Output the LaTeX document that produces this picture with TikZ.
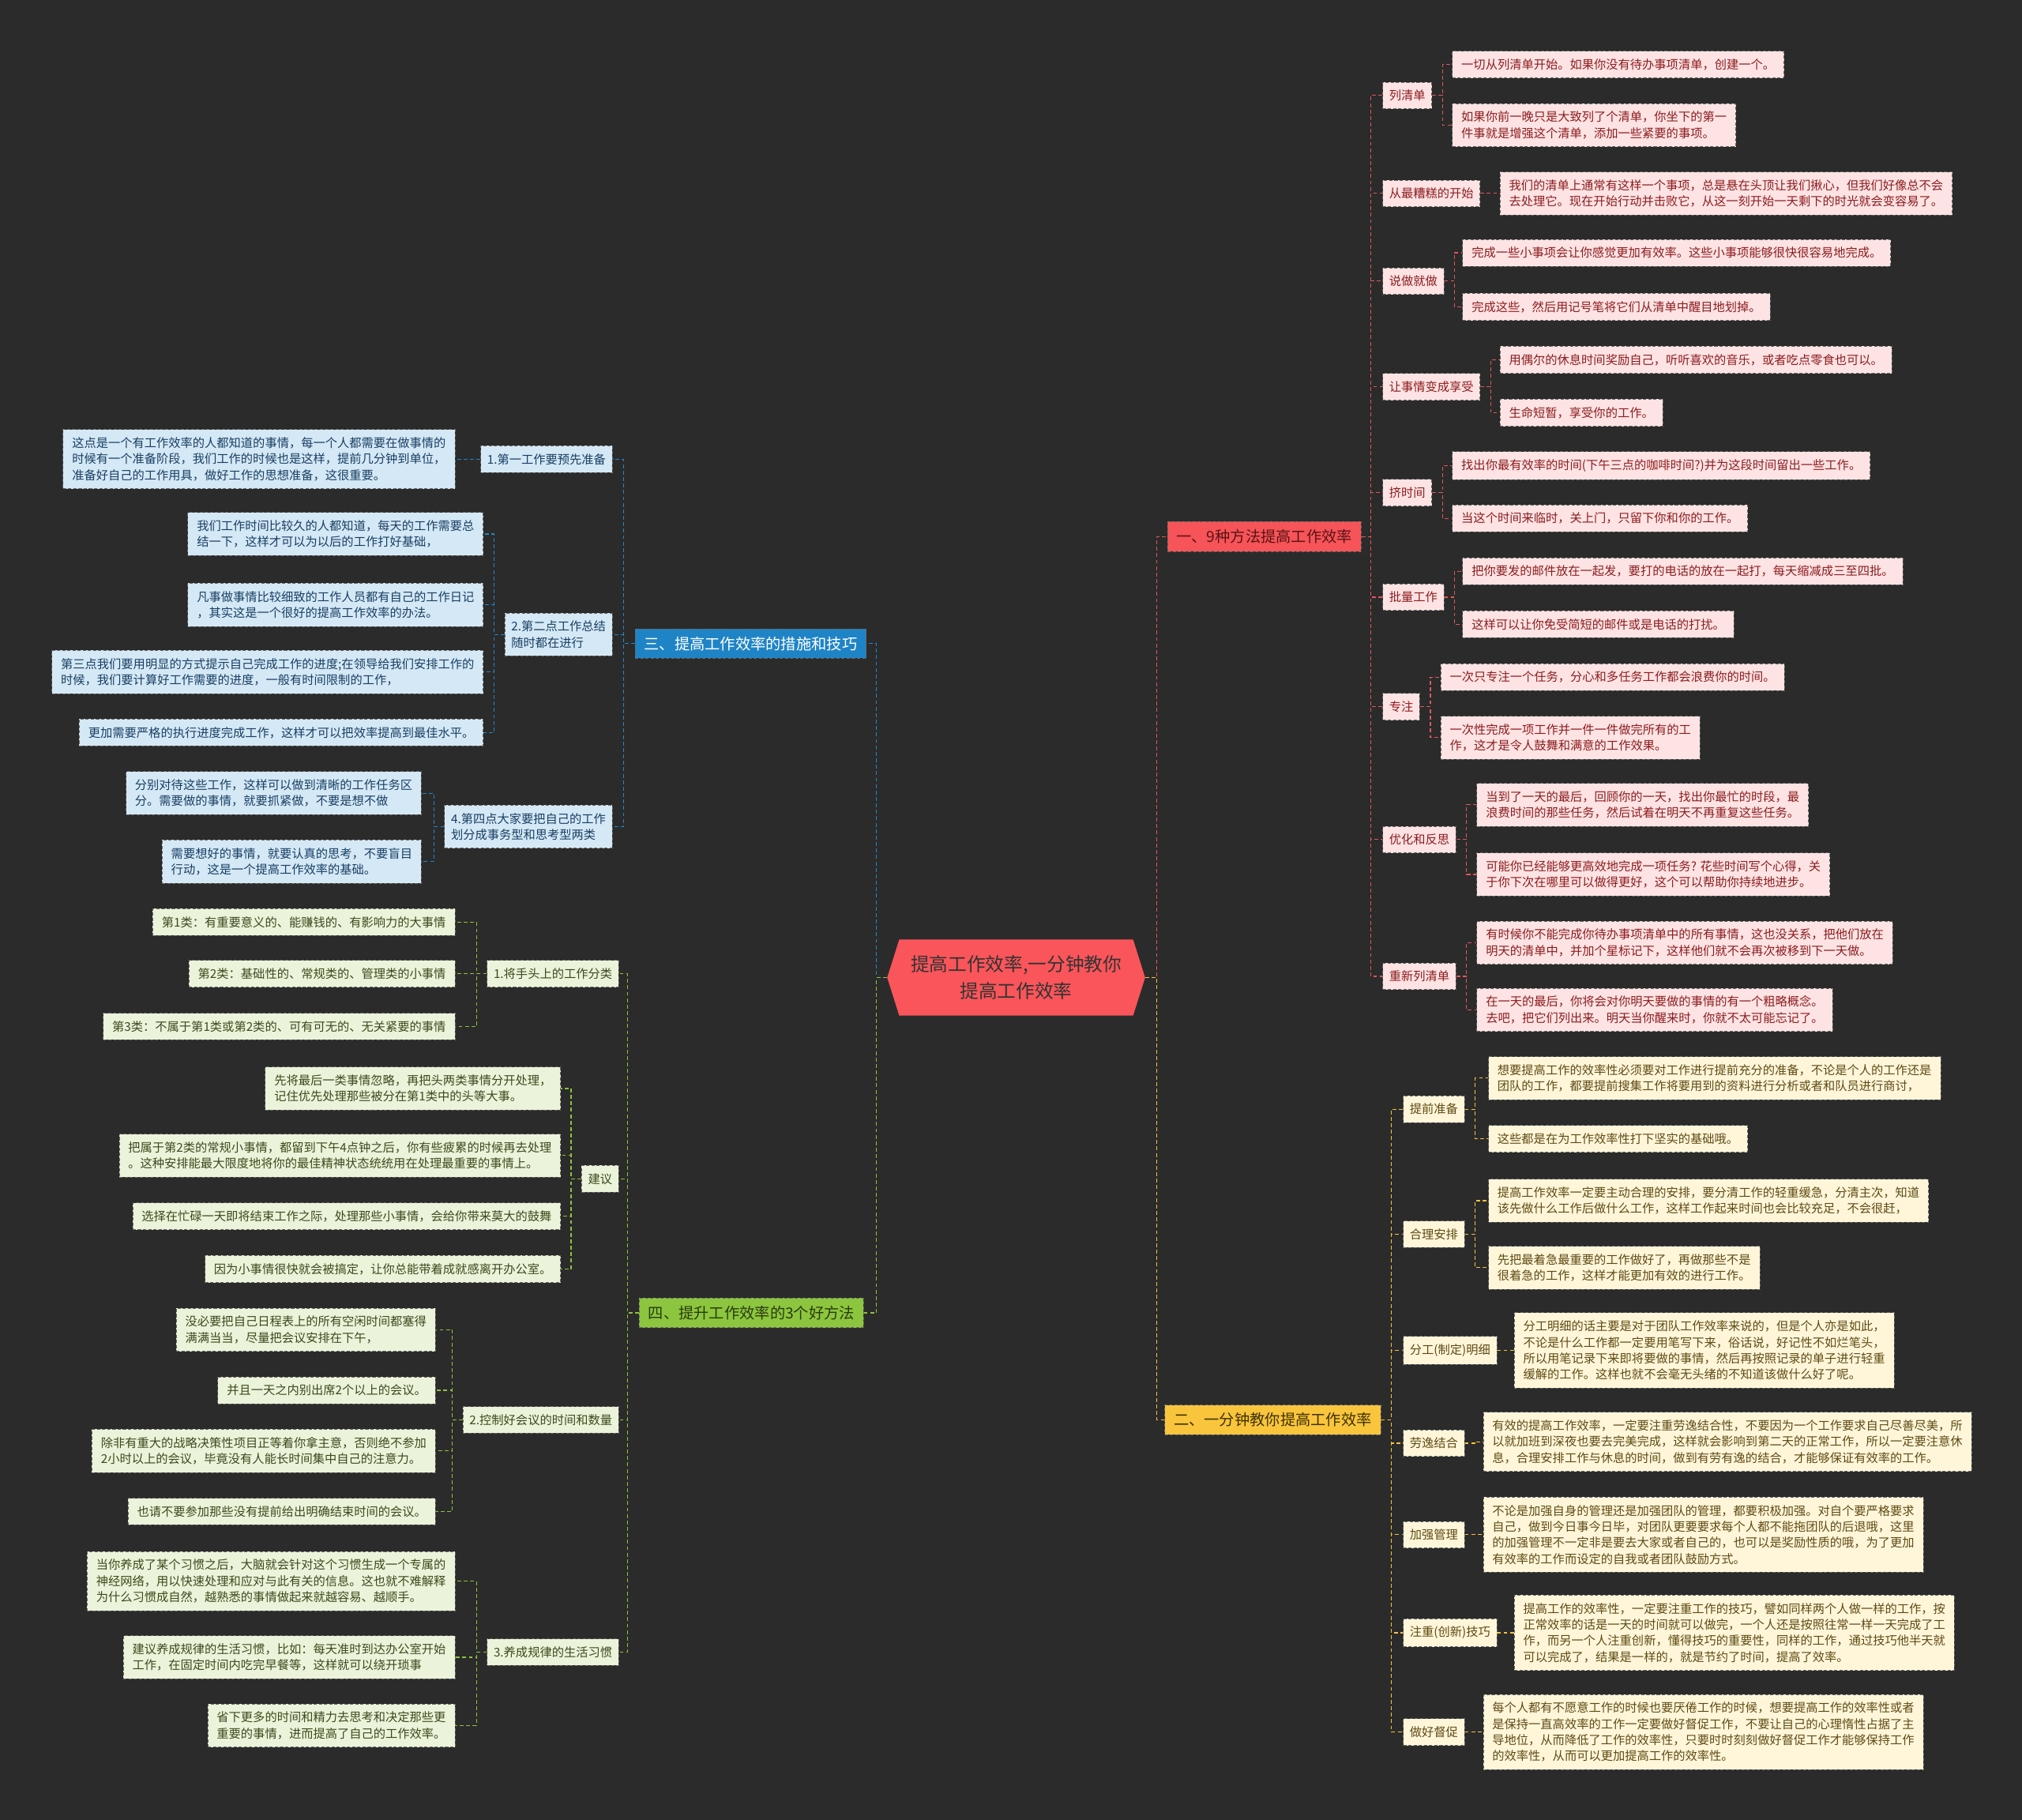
\documentclass[tikz,border=0pt]{standalone}
\usepackage{fontspec}
\setmainfont{Noto Sans CJK SC}
\usetikzlibrary{shapes.symbols,positioning}
\definecolor{bgdark}{HTML}{2B2B2B}
\definecolor{rootred}{HTML}{F9555A}
\definecolor{redmain}{HTML}{F65458}
\definecolor{redink}{HTML}{5A1215}
\definecolor{redline}{HTML}{E0575A}
\definecolor{redleaf}{HTML}{FDE3E3}
\definecolor{redtext}{HTML}{8C1C1F}
\definecolor{yelmain}{HTML}{F9C53C}
\definecolor{yelink}{HTML}{3D3000}
\definecolor{yelline}{HTML}{F5C242}
\definecolor{yelleaf}{HTML}{FFF6DA}
\definecolor{yeltext}{HTML}{5E4A12}
\definecolor{bluemain}{HTML}{1F84C6}
\definecolor{blueink}{HTML}{FFFFFF}
\definecolor{blueline}{HTML}{2386C8}
\definecolor{blueleaf}{HTML}{D5E8F5}
\definecolor{bluetext}{HTML}{173F63}
\definecolor{grnmain}{HTML}{8CC63E}
\definecolor{grnink}{HTML}{2A3A10}
\definecolor{grnline}{HTML}{8CC43C}
\definecolor{grnleaf}{HTML}{EBF3DA}
\definecolor{grntext}{HTML}{3B4A1C}
\tikzset{
  basebox/.style={
    rectangle, draw=black!60, dash pattern=on 2.5pt off 1.5pt,
    line width=0.5pt, align=left,
    font=\fontsize{9.35}{12.5}\selectfont,
    inner xsep=7pt, inner ysep=6pt},
  leafbox/.style={basebox, fill=#1leaf, text=#1text},
  subbox/.style={leafbox=#1, inner xsep=5pt},
  topicbox/.style={basebox, fill=#1main, text=#1ink,
    font=\fontsize{11.8}{14}\selectfont},
  rootnode/.style={
    signal, signal to=west and east, signal pointer angle=145,
    fill=rootred, text=black!80, align=center,
    font=\fontsize{14.5}{21}\selectfont,
    minimum width=200pt, minimum height=59pt, inner sep=2pt},
  linkline/.style={draw=#1line, dash pattern=on 3pt off 2pt, line width=0.7pt},
}
\begin{document}
\begin{tikzpicture}[x=1pt, y=-1pt]
  \path[use as bounding box, fill=bgdark] (0,0) rectangle (1568,1411);

  \node[rootnode] (r0) at (788,758) {提高工作效率,一分钟教你\\提高工作效率};
  \node[topicbox=red, anchor=west] (t1) at (905,416) {一、9种方法提高工作效率};
  \node[topicbox=yel, anchor=west] (t2) at (903,1101) {二、一分钟教你提高工作效率};
  \node[topicbox=blue, anchor=east] (t3) at (672,499) {三、提高工作效率的措施和技巧};
  \node[topicbox=grn, anchor=east] (t4) at (670,1018) {四、提升工作效率的3个好方法};

  \node[subbox=red, anchor=west] (list) at (1072,74) {列清单};
  \node[subbox=red, anchor=west] (worst) at (1072,150) {从最糟糕的开始};
  \node[subbox=red, anchor=west] (doit) at (1072,218) {说做就做};
  \node[subbox=red, anchor=west] (enjoy) at (1072,300) {让事情变成享受};
  \node[subbox=red, anchor=west] (squeeze) at (1072,382) {挤时间};
  \node[subbox=red, anchor=west] (batch) at (1072,463) {批量工作};
  \node[subbox=red, anchor=west] (focus) at (1072,548) {专注};
  \node[subbox=red, anchor=west] (review) at (1072,651) {优化和反思};
  \node[subbox=red, anchor=west] (relist) at (1072,757) {重新列清单};

  \node[leafbox=red, anchor=west] (list-a) at (1126,50) {一切从列清单开始。如果你没有待办事项清单，创建一个。};
  \node[leafbox=red, anchor=west] (list-b) at (1126,97) {如果你前一晚只是大致列了个清单，你坐下的第一\\件事就是增强这个清单，添加一些紧要的事项。};
  \node[leafbox=red, anchor=west] (worst-a) at (1163,150) {我们的清单上通常有这样一个事项，总是悬在头顶让我们揪心，但我们好像总不会\\去处理它。现在开始行动并击败它，从这一刻开始一天剩下的时光就会变容易了。};
  \node[leafbox=red, anchor=west] (doit-a) at (1134,196) {完成一些小事项会让你感觉更加有效率。这些小事项能够很快很容易地完成。};
  \node[leafbox=red, anchor=west] (doit-b) at (1134,238) {完成这些，然后用记号笔将它们从清单中醒目地划掉。};
  \node[leafbox=red, anchor=west] (enjoy-a) at (1163,279) {用偶尔的休息时间奖励自己，听听喜欢的音乐，或者吃点零食也可以。};
  \node[leafbox=red, anchor=west] (enjoy-b) at (1163,320) {生命短暂，享受你的工作。};
  \node[leafbox=red, anchor=west] (squeeze-a) at (1126,361) {找出你最有效率的时间(下午三点的咖啡时间?)并为这段时间留出一些工作。};
  \node[leafbox=red, anchor=west] (squeeze-b) at (1126,402) {当这个时间来临时，关上门，只留下你和你的工作。};
  \node[leafbox=red, anchor=west] (batch-a) at (1134,443) {把你要发的邮件放在一起发，要打的电话的放在一起打，每天缩减成三至四批。};
  \node[leafbox=red, anchor=west] (batch-b) at (1134,484) {这样可以让你免受简短的邮件或是电话的打扰。};
  \node[leafbox=red, anchor=west] (focus-a) at (1117,525) {一次只专注一个任务，分心和多任务工作都会浪费你的时间。};
  \node[leafbox=red, anchor=west] (focus-b) at (1117,572) {一次性完成一项工作并一件一件做完所有的工\\作，这才是令人鼓舞和满意的工作效果。};
  \node[leafbox=red, anchor=west] (review-a) at (1145,624) {当到了一天的最后，回顾你的一天，找出你最忙的时段，最\\浪费时间的那些任务，然后试着在明天不再重复这些任务。};
  \node[leafbox=red, anchor=west] (review-b) at (1145,678) {可能你已经能够更高效地完成一项任务? 花些时间写个心得，关\\于你下次在哪里可以做得更好，这个可以帮助你持续地进步。};
  \node[leafbox=red, anchor=west] (relist-a) at (1145,731) {有时候你不能完成你待办事项清单中的所有事情，这也没关系，把他们放在\\明天的清单中，并加个星标记下，这样他们就不会再次被移到下一天做。};
  \node[leafbox=red, anchor=west] (relist-b) at (1145,783) {在一天的最后，你将会对你明天要做的事情的有一个粗略概念。\\去吧，把它们列出来。明天当你醒来时，你就不太可能忘记了。};

  \node[subbox=yel, anchor=west] (prep) at (1088,860) {提前准备};
  \node[subbox=yel, anchor=west] (plan) at (1088,957) {合理安排};
  \node[subbox=yel, anchor=west] (divide) at (1088,1047) {分工(制定)明细};
  \node[subbox=yel, anchor=west] (rest) at (1088,1119) {劳逸结合};
  \node[subbox=yel, anchor=west] (manage) at (1088,1190) {加强管理};
  \node[subbox=yel, anchor=west] (skill) at (1088,1266) {注重(创新)技巧};
  \node[subbox=yel, anchor=west] (urge) at (1088,1343) {做好督促};

  \node[leafbox=yel, anchor=west] (prep-a) at (1154,836) {想要提高工作的效率性必须要对工作进行提前充分的准备，不论是个人的工作还是\\团队的工作，都要提前搜集工作将要用到的资料进行分析或者和队员进行商讨，};
  \node[leafbox=yel, anchor=west] (prep-b) at (1154,883) {这些都是在为工作效率性打下坚实的基础哦。};
  \node[leafbox=yel, anchor=west] (plan-a) at (1154,931) {提高工作效率一定要主动合理的安排，要分清工作的轻重缓急，分清主次，知道\\该先做什么工作后做什么工作，这样工作起来时间也会比较充足，不会很赶，};
  \node[leafbox=yel, anchor=west] (plan-b) at (1154,983) {先把最着急最重要的工作做好了，再做那些不是\\很着急的工作，这样才能更加有效的进行工作。};
  \node[leafbox=yel, anchor=west] (divide-a) at (1174,1047) {分工明细的话主要是对于团队工作效率来说的，但是个人亦是如此，\\不论是什么工作都一定要用笔写下来，俗话说，好记性不如烂笔头，\\所以用笔记录下来即将要做的事情，然后再按照记录的单子进行轻重\\缓解的工作。这样也就不会毫无头绪的不知道该做什么好了呢。};
  \node[leafbox=yel, anchor=west] (rest-a) at (1150,1118) {有效的提高工作效率，一定要注重劳逸结合性，不要因为一个工作要求自己尽善尽美，所\\以就加班到深夜也要去完美完成，这样就会影响到第二天的正常工作，所以一定要注意休\\息，合理安排工作与休息的时间，做到有劳有逸的结合，才能够保证有效率的工作。};
  \node[leafbox=yel, anchor=west] (manage-a) at (1150,1190) {不论是加强自身的管理还是加强团队的管理，都要积极加强。对自个要严格要求\\自己，做到今日事今日毕，对团队更要要求每个人都不能拖团队的后退哦，这里\\的加强管理不一定非是要去大家或者自己的，也可以是奖励性质的哦，为了更加\\有效率的工作而设定的自我或者团队鼓励方式。};
  \node[leafbox=yel, anchor=west] (skill-a) at (1174,1266) {提高工作的效率性，一定要注重工作的技巧，譬如同样两个人做一样的工作，按\\正常效率的话是一天的时间就可以做完，一个人还是按照往常一样一天完成了工\\作，而另一个人注重创新，懂得技巧的重要性，同样的工作，通过技巧他半天就\\可以完成了，结果是一样的，就是节约了时间，提高了效率。};
  \node[leafbox=yel, anchor=west] (urge-a) at (1150,1343) {每个人都有不愿意工作的时候也要厌倦工作的时候，想要提高工作的效率性或者\\是保持一直高效率的工作一定要做好督促工作，不要让自己的心理惰性占据了主\\导地位，从而降低了工作的效率性，只要时时刻刻做好督促工作才能够保持工作\\的效率性，从而可以更加提高工作的效率性。};

  \node[subbox=blue, anchor=east] (prepare) at (475,356) {1.第一工作要预先准备};
  \node[subbox=blue, anchor=east] (summary) at (475,492) {2.第二点工作总结\\随时都在进行};
  \node[subbox=blue, anchor=east] (split) at (475,641) {4.第四点大家要把自己的工作\\划分成事务型和思考型两类};

  \node[leafbox=blue, anchor=east] (prepare-a) at (353,356) {这点是一个有工作效率的人都知道的事情，每一个人都需要在做事情的\\时候有一个准备阶段，我们工作的时候也是这样，提前几分钟到单位，\\准备好自己的工作用具，做好工作的思想准备，这很重要。};
  \node[leafbox=blue, anchor=east] (summary-a) at (375,414) {我们工作时间比较久的人都知道，每天的工作需要总\\结一下，这样才可以为以后的工作打好基础，};
  \node[leafbox=blue, anchor=east] (summary-b) at (375,469) {凡事做事情比较细致的工作人员都有自己的工作日记\\，其实这是一个很好的提高工作效率的办法。};
  \node[leafbox=blue, anchor=east] (summary-c) at (375,521) {第三点我们要用明显的方式提示自己完成工作的进度;在领导给我们安排工作的\\时候，我们要计算好工作需要的进度，一般有时间限制的工作，};
  \node[leafbox=blue, anchor=east] (summary-d) at (375,568) {更加需要严格的执行进度完成工作，这样才可以把效率提高到最佳水平。};
  \node[leafbox=blue, anchor=east] (split-a) at (327,615) {分别对待这些工作，这样可以做到清晰的工作任务区\\分。需要做的事情，就要抓紧做，不要是想不做};
  \node[leafbox=blue, anchor=east] (split-b) at (327,668) {需要想好的事情，就要认真的思考，不要盲目\\行动，这是一个提高工作效率的基础。};

  \node[subbox=grn, anchor=east] (sort) at (480,755) {1.将手头上的工作分类};
  \node[subbox=grn, anchor=east] (advice) at (480,914) {建议};
  \node[subbox=grn, anchor=east] (meeting) at (480,1101) {2.控制好会议的时间和数量};
  \node[subbox=grn, anchor=east] (habit) at (480,1281) {3.养成规律的生活习惯};

  \node[leafbox=grn, anchor=east] (sort-a) at (353,715) {第1类：有重要意义的、能赚钱的、有影响力的大事情};
  \node[leafbox=grn, anchor=east] (sort-b) at (353,755) {第2类：基础性的、常规类的、管理类的小事情};
  \node[leafbox=grn, anchor=east] (sort-c) at (353,796) {第3类：不属于第1类或第2类的、可有可无的、无关紧要的事情};
  \node[leafbox=grn, anchor=east] (advice-a) at (435,844) {先将最后一类事情忽略，再把头两类事情分开处理，\\记住优先处理那些被分在第1类中的头等大事。};
  \node[leafbox=grn, anchor=east] (advice-b) at (435,896) {把属于第2类的常规小事情，都留到下午4点钟之后，你有些疲累的时候再去处理\\。这种安排能最大限度地将你的最佳精神状态统统用在处理最重要的事情上。};
  \node[leafbox=grn, anchor=east] (advice-c) at (435,943) {选择在忙碌一天即将结束工作之际，处理那些小事情，会给你带来莫大的鼓舞};
  \node[leafbox=grn, anchor=east] (advice-d) at (435,984) {因为小事情很快就会被搞定，让你总能带着成就感离开办公室。};
  \node[leafbox=grn, anchor=east] (meeting-a) at (338,1031) {没必要把自己日程表上的所有空闲时间都塞得\\满满当当，尽量把会议安排在下午，};
  \node[leafbox=grn, anchor=east] (meeting-b) at (338,1078) {并且一天之内别出席2个以上的会议。};
  \node[leafbox=grn, anchor=east] (meeting-c) at (338,1125) {除非有重大的战略决策性项目正等着你拿主意，否则绝不参加\\2小时以上的会议，毕竟没有人能长时间集中自己的注意力。};
  \node[leafbox=grn, anchor=east] (meeting-d) at (338,1172) {也请不要参加那些没有提前给出明确结束时间的会议。};
  \node[leafbox=grn, anchor=east] (habit-a) at (353,1226) {当你养成了某个习惯之后，大脑就会针对这个习惯生成一个专属的\\神经网络，用以快速处理和应对与此有关的信息。这也就不难解释\\为什么习惯成自然，越熟悉的事情做起来就越容易、越顺手。};
  \node[leafbox=grn, anchor=east] (habit-b) at (353,1285) {建议养成规律的生活习惯，比如：每天准时到达办公室开始\\工作，在固定时间内吃完早餐等，这样就可以绕开琐事};
  \node[leafbox=grn, anchor=east] (habit-c) at (353,1338) {省下更多的时间和精力去思考和决定那些更\\重要的事情，进而提高了自己的工作效率。};

  \draw[linkline=red] (r0.east) -- ++(9,0) |- (t1.west);
  \draw[linkline=yel] (r0.east) -- ++(9,0) |- (t2.west);
  \draw[linkline=blue] (r0.west) -- ++(-8,0) |- (t3.east);
  \draw[linkline=grn] (r0.west) -- ++(-8,0) |- (t4.east);

  \foreach \n in {list,worst,doit,enjoy,squeeze,batch,focus,review,relist}
    \draw[linkline=red] (t1.east) -- ++(7,0) |- (\n.west);
  \foreach \n/\m in {list/list-a,list/list-b,worst/worst-a,doit/doit-a,doit/doit-b,
      enjoy/enjoy-a,enjoy/enjoy-b,squeeze/squeeze-a,squeeze/squeeze-b,batch/batch-a,
      batch/batch-b,focus/focus-a,focus/focus-b,review/review-a,review/review-b,
      relist/relist-a,relist/relist-b}
    \draw[linkline=red] (\n.east) -- ++(8,0) |- (\m.west);

  \foreach \n in {prep,plan,divide,rest,manage,skill,urge}
    \draw[linkline=yel] (t2.east) -- ++(8,0) |- (\n.west);
  \foreach \n/\m in {prep/prep-a,prep/prep-b,plan/plan-a,plan/plan-b,divide/divide-a,
      rest/rest-a,manage/manage-a,skill/skill-a,urge/urge-a}
    \draw[linkline=yel] (\n.east) -- ++(8,0) |- (\m.west);

  \foreach \n in {prepare,summary,split}
    \draw[linkline=blue] (t3.west) -- ++(-9,0) |- (\n.east);
  \foreach \n/\m in {prepare/prepare-a,summary/summary-a,summary/summary-b,
      summary/summary-c,summary/summary-d,split/split-a,split/split-b}
    \draw[linkline=blue] (\n.west) -- ++(-8,0) |- (\m.east);

  \foreach \n in {sort,advice,meeting,habit}
    \draw[linkline=grn] (t4.west) -- ++(-9,0) |- (\n.east);
  \foreach \n/\m in {sort/sort-a,sort/sort-b,sort/sort-c,advice/advice-a,advice/advice-b,
      advice/advice-c,advice/advice-d,meeting/meeting-a,meeting/meeting-b,
      meeting/meeting-c,meeting/meeting-d,habit/habit-a,habit/habit-b,habit/habit-c}
    \draw[linkline=grn] (\n.west) -- ++(-8,0) |- (\m.east);
\end{tikzpicture}
\end{document}
